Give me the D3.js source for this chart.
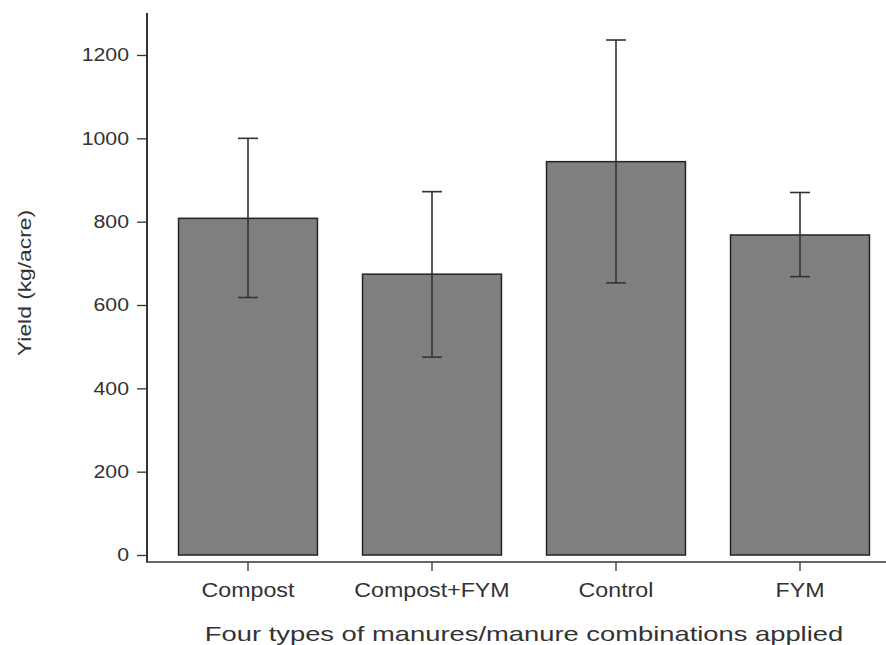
<!DOCTYPE html>
<html>
<head>
<meta charset="utf-8">
<script src="https://cdn.jsdelivr.net/npm/d3@7"></script>
<style>
  body { margin: 0; background: #fff; }
  svg text { font-family: "Liberation Sans", Arial, sans-serif; fill: #333; }
</style>
</head>
<body>
<div id="chart"></div>
<script>
// data
const categories = ["Compost", "Compost+FYM", "Control", "FYM"];
const means = [808, 674, 944, 768];
const lower = [618, 475, 653, 668];
const upper = [1000, 872, 1236, 870];
const yTicks = [0, 200, 400, 600, 800, 1000, 1200];

const width = 886, height = 645;
const axisX = 147,   // y axis line
    axisY = 562,     // x axis line
    zeroY = 555,
    topY = 13;

// the text in the picture is a bit wider than the font, stretch it sideways
const stretchY = 1.15, stretchX = 1.19, stretchTitle = 1.335, stretchLabel = 1.2;

const svg = d3.select("#chart")
    .append("svg")
    .attr("width", width)
    .attr("height", height);

// scales
let y = d3.scaleLinear()
    .domain([0, 1200])
    .range([zeroY, 55]);

let x = d3.scaleBand()
    .domain(categories)
    .range([156, 892])
    .paddingInner(0.245)
    .paddingOuter(0.1225);

// y axis
const yAxis = svg.append("g")
    .attr("transform", "translate(" + axisX + ",0)")
    .call(d3.axisLeft(y).tickValues(yTicks).tickFormat(d3.format("d")).tickSize(10).tickPadding(8));
yAxis.select(".domain").remove();
yAxis.selectAll(".tick line").attr("stroke", "#333").attr("stroke-width", 1.3);
yAxis.selectAll(".tick text")
    .attr("x", 0)
    .attr("transform", "translate(-18,0) scale(" + stretchY + ",1)")
    .style("font-size", "18.5px");

svg.append("line")
    .attr("x1", axisX).attr("x2", axisX)
    .attr("y1", topY).attr("y2", axisY)
    .attr("stroke", "#333")
    .attr("stroke-width", 2);

// x axis
const xAxis = svg.append("g")
    .attr("transform", "translate(0," + axisY + ")")
    .call(d3.axisBottom(x).tickSize(9).tickPadding(12));
xAxis.select(".domain").remove();
xAxis.selectAll(".tick line").attr("stroke", "#333").attr("stroke-width", 1.3);
xAxis.selectAll(".tick text")
    .attr("transform", "scale(" + stretchX + ",1)")
    .style("font-size", "19.5px");

svg.append("line")
    .attr("x1", axisX - 1).attr("x2", width)
    .attr("y1", axisY).attr("y2", axisY)
    .attr("stroke", "#333")
    .attr("stroke-width", 1.5);

// bars
svg.selectAll(".bar")
    .data(categories)
    .enter()
    .append("rect")
    .attr("class", "bar")
    .attr("x", d => x(d))
    .attr("width", x.bandwidth())
    .attr("y", (d, i) => y(means[i]))
    .attr("height", (d, i) => y(0) - y(means[i]))
    .attr("fill", "#808080")
    .attr("stroke", "#222")
    .attr("stroke-width", 1.5);

// error bars
const capHalf = 10;
const err = svg.selectAll(".err")
    .data(categories)
    .enter()
    .append("g")
    .attr("class", "err")
    .attr("stroke", "#333")
    .attr("stroke-width", 1.6);

err.append("line")
    .attr("x1", d => x(d) + x.bandwidth() / 2)
    .attr("x2", d => x(d) + x.bandwidth() / 2)
    .attr("y1", (d, i) => y(lower[i]))
    .attr("y2", (d, i) => y(upper[i]));

err.append("line")
    .attr("x1", d => x(d) + x.bandwidth() / 2 - capHalf)
    .attr("x2", d => x(d) + x.bandwidth() / 2 + capHalf)
    .attr("y1", (d, i) => y(upper[i]))
    .attr("y2", (d, i) => y(upper[i]));

err.append("line")
    .attr("x1", d => x(d) + x.bandwidth() / 2 - capHalf)
    .attr("x2", d => x(d) + x.bandwidth() / 2 + capHalf)
    .attr("y1", (d, i) => y(lower[i]))
    .attr("y2", (d, i) => y(lower[i]));

// axis titles
svg.append("text")
    .attr("transform", "translate(524,641) scale(" + stretchTitle + ",1)")
    .attr("text-anchor", "middle")
    .style("font-size", "20.5px")
    .text("Four types of manures/manure combinations applied");

svg.append("text")
    .attr("transform", "translate(31,283) rotate(-90) scale(" + stretchLabel + ",1)")
    .attr("text-anchor", "middle")
    .style("font-size", "19px")
    .text("Yield (kg/acre)");
</script>
</body>
</html>
